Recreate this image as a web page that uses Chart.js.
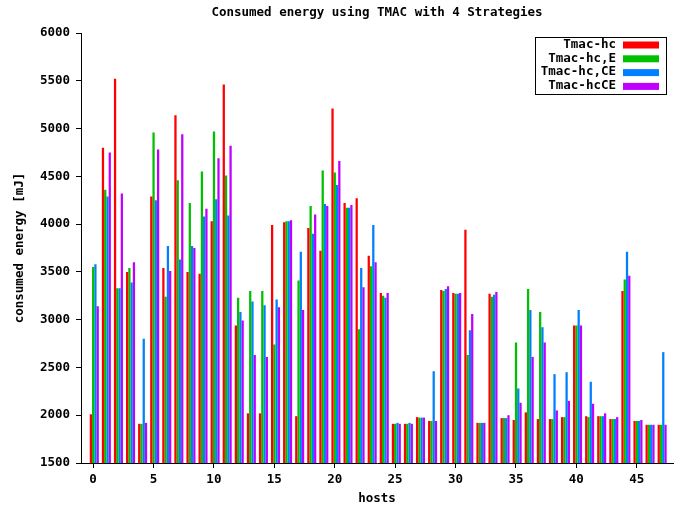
<!DOCTYPE html>
<html>
<head>
<meta charset="utf-8">
<title>Consumed energy using TMAC with 4 Strategies</title>
<script src="https://cdn.jsdelivr.net/npm/chart.js@4.4.1/dist/chart.umd.min.js"></script>
<style>
    body { margin: 0; background: #fff; }
    canvas { display: block; }
</style>
</head>
<body>
<canvas id="chart" width="682" height="510"></canvas>
<script>
// hosts on the x axis
const hosts = [0, 1, 2, 3, 4, 5, 6, 7, 8, 9, 10, 11, 12, 13, 14, 15, 16, 17, 18, 19,
    20, 21, 22, 23, 24, 25, 26, 27, 28, 29, 30, 31, 32, 33, 34, 35, 36, 37, 38, 39,
    40, 41, 42, 43, 44, 45, 46, 47];

// consumed energy [mJ] per host, one array per strategy
const tmacHc = [2010, 4800, 5520, 3500, 1910, 4290, 3540, 5140, 3500, 3480,
    4030, 5460, 2940, 2020, 2020, 3990, 4020, 1990, 3960, 3720,
    5210, 4220, 4270, 3670, 3280, 1910, 1910, 1980, 1940, 3310,
    3280, 3940, 1920, 3270, 1970, 1950, 2030, 1960, 1960, 1980,
    2940, 1990, 1990, 1960, 3300, 1940, 1900, 1900];
const tmacHcE = [3550, 4360, 3330, 3540, 1910, 4960, 3240, 4460, 4220, 4550,
    4970, 4510, 3230, 3300, 3300, 2740, 4030, 3410, 4190, 4560,
    4540, 4170, 2900, 3560, 3250, 1910, 1910, 1975, 1940, 3300,
    3270, 2630, 1920, 3240, 1970, 2760, 3320, 3080, 1960, 1980,
    2940, 1980, 1990, 1960, 3420, 1940, 1900, 1900];
const tmacHcCE = [3580, 4290, 3330, 3390, 2800, 4250, 3770, 3630, 3770, 4080,
    4260, 4090, 3080, 3190, 3150, 3210, 4030, 3710, 3900, 4210,
    4410, 4170, 3540, 3990, 3230, 1920, 1920, 1975, 2460, 3320,
    3270, 2890, 1920, 3260, 1970, 2280, 3100, 2920, 2430, 2450,
    3100, 2350, 1990, 1960, 3710, 1940, 1900, 2660];
const tmacHcCE2 = [3140, 4750, 4320, 3600, 1920, 4780, 3510, 4940, 3750, 4160,
    4690, 4820, 2990, 2630, 2610, 3130, 4040, 3100, 4100, 4190,
    4660, 4200, 3340, 3600, 3280, 1910, 1910, 1975, 1940, 3350,
    3280, 3060, 1920, 3290, 2000, 2130, 2610, 2760, 2050, 2150,
    2940, 2120, 2020, 1980, 3460, 1950, 1900, 1900];

const seriesNames = ['Tmac-hc', 'Tmac-hc,E', 'Tmac-hc,CE', 'Tmac-hcCE'];
const seriesColors = ['#ff0000', '#00c000', '#0080ff', '#c000ff'];

const FONT = '"DejaVu Sans Mono", monospace';

function toPoints(values) {
    return hosts.map((h, i) => ({ x: h, y: values[i] }));
}

// legend box in the top right corner, text right-aligned, sample on the right
const boxLegend = {
    id: 'boxLegend',
    afterDraw(chart) {
        const ctx = chart.ctx;
        const area = chart.chartArea;
        const right = area.right - 7;
        const left = right - 131;
        const top = area.top + 4;
        const rowH = 13.8;
        ctx.save();
        ctx.strokeStyle = '#000';
        ctx.lineWidth = 1;
        ctx.fillStyle = '#fff';
        ctx.fillRect(left, top, right - left, 57);
        ctx.strokeRect(left + 0.5, top + 0.5, right - left, 57);
        ctx.font = 'bold 12.5px ' + FONT;
        ctx.textAlign = 'right';
        ctx.textBaseline = 'middle';
        seriesNames.forEach((name, i) => {
            const y = top + 7.5 + i * rowH;
            ctx.fillStyle = '#000';
            ctx.fillText(name, right - 50, y);
            ctx.fillStyle = seriesColors[i];
            ctx.fillRect(right - 43, y - 3, 36, 7);
        });
        ctx.restore();
    }
};

const tickFont = { family: FONT, size: 12.5, weight: 'bold' };
const titleFont = { family: FONT, size: 12.5, weight: 'bold', lineHeight: 1.2 };

const ctx = document.getElementById('chart').getContext('2d');

new Chart(ctx, {
    type: 'bar',
    data: {
        datasets: [tmacHc, tmacHcE, tmacHcCE, tmacHcCE2].map((values, i) => ({
            label: seriesNames[i],
            data: toPoints(values),
            xAxisID: 'xBars',
            backgroundColor: seriesColors[i],
            borderWidth: 0,
            categoryPercentage: 0.75,
            barPercentage: 1.0
        }))
    },
    options: {
        responsive: false,
        animation: false,
        layout: { padding: { left: 0, right: 9, top: 0, bottom: 0 } },
        plugins: {
            legend: { display: false },
            tooltip: { enabled: false },
            title: {
                display: true,
                text: 'Consumed energy using TMAC with 4 Strategies',
                fullSize: false,
                color: '#000',
                font: titleFont,
                padding: { top: 5, bottom: 13 }
            }
        },
        scales: {
            // bar clusters sit a little right of the host tick, like gnuplot's histogram
            xBars: {
                type: 'linear',
                display: false,
                min: -1.1,
                max: 47.9,
                offset: false,
                grid: { offset: false }
            },
            x: {
                type: 'linear',
                position: 'bottom',
                min: -1,
                max: 48,
                offset: false,
                afterFit: (scale) => { scale.height = 47; },
                grid: {
                    display: true,
                    offset: false,
                    drawOnChartArea: false,
                    drawTicks: true,
                    tickLength: 5,
                    color: '#000'
                },
                border: { display: true, color: '#000' },
                ticks: {
                    stepSize: 5,
                    includeBounds: false,
                    maxRotation: 0,
                    padding: 4,
                    color: '#000',
                    font: tickFont
                },
                title: {
                    display: true,
                    text: 'hosts',
                    color: '#000',
                    font: titleFont,
                    padding: { top: 4, bottom: 4 }
                }
            },
            y: {
                min: 1500,
                max: 6000,
                afterFit: (scale) => { scale.width = 81; },
                grid: {
                    display: true,
                    drawOnChartArea: false,
                    drawTicks: true,
                    tickLength: 5,
                    color: '#000'
                },
                border: { display: true, color: '#000' },
                ticks: {
                    stepSize: 500,
                    padding: 6,
                    color: '#000',
                    font: tickFont,
                    callback: (value) => String(value)
                },
                title: {
                    display: true,
                    text: 'consumed energy [mJ]',
                    color: '#000',
                    font: titleFont,
                    padding: { top: 12, bottom: 12 }
                }
            }
        }
    },
    plugins: [boxLegend]
});
</script>
</body>
</html>
